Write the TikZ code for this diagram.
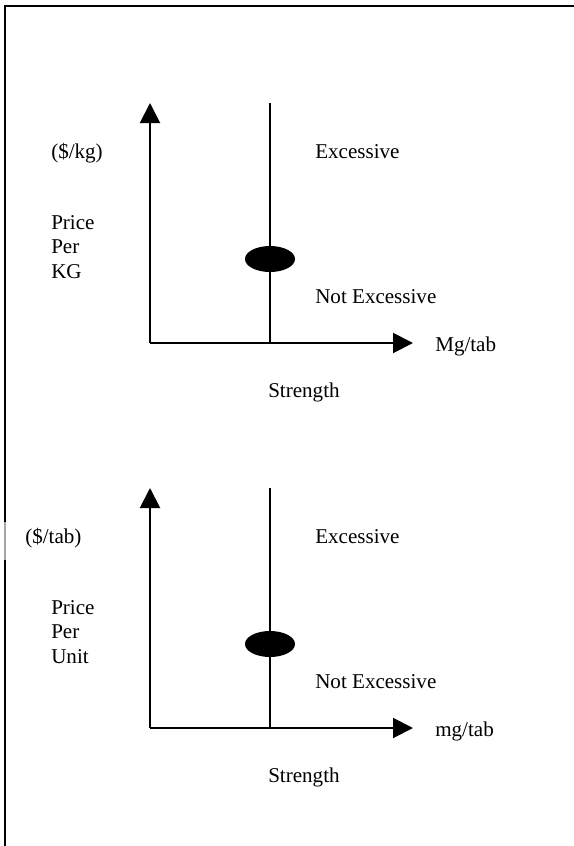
\documentclass[tikz,border=0pt]{standalone}
\usepackage{fontspec}
\setmainfont{Liberation Serif}
\usetikzlibrary{arrows.meta,shapes.geometric}
\begin{document}
\begin{tikzpicture}[x=0.75pt,y=-0.75pt,
  lbl/.style={anchor=base west,inner sep=0pt,font=\fontsize{15.8}{19}\selectfont},
  axisline/.style={line width=1.5pt,-{Triangle[length=15pt,width=15pt]}},
  divider/.style={line width=1.5pt},
  framedge/.style={line width=1.6pt},
  dot/.style={ellipse,fill=black,draw=none,minimum width=37.5pt,minimum height=19.5pt,inner sep=0pt}]
\useasboundingbox (0,0) rectangle (574,846);
% frame (top and left edges only)
\coordinate (fbl) at (5,846);
\coordinate (ftl) at (5,6);
\coordinate (ftr) at (574,6);
\draw[framedge] (fbl) -- (ftl) -- (ftr);
\coordinate (gtop) at (5,522);
\coordinate (gbot) at (5,560);
\draw[line width=1.7pt,gray!70] (gtop) -- (gbot);

% ---------- upper panel ----------
\coordinate (o1) at (150,343);
\coordinate (yt1) at (150,103);
\coordinate (xt1) at (413,343);
\coordinate (vt1) at (270,103);
\coordinate (vb1) at (270,343);
\draw[axisline] (o1) -- (yt1);
\draw[axisline] (o1) -- (xt1);
\draw[divider] (vt1) -- (vb1);
\node[dot] (dot1) at (270,259) {};
\node[lbl] (unit1) at (51,158) {(\$/kg)};
\node[lbl] (pa1) at (51,229) {Price};
\node[lbl] (pb1) at (51,253.5) {Per};
\node[lbl] (pc1) at (51,278) {KG};
\node[lbl] (ex1) at (315,158) {Excessive};
\node[lbl] (nex1) at (315,303) {Not Excessive};
\node[lbl] (xl1) at (435,351) {Mg/tab};
\node[lbl] (st1) at (268,397) {Strength};

% ---------- lower panel ----------
\coordinate (o2) at (150,728);
\coordinate (yt2) at (150,488);
\coordinate (xt2) at (413,728);
\coordinate (vt2) at (270,488);
\coordinate (vb2) at (270,728);
\draw[axisline] (o2) -- (yt2);
\draw[axisline] (o2) -- (xt2);
\draw[divider] (vt2) -- (vb2);
\node[dot] (dot2) at (270,644) {};
\node[lbl] (unit2) at (25,543) {(\$/tab)};
\node[lbl] (pa2) at (51,614) {Price};
\node[lbl] (pb2) at (51,638.5) {Per};
\node[lbl] (pc2) at (51,663) {Unit};
\node[lbl] (ex2) at (315,543) {Excessive};
\node[lbl] (nex2) at (315,688) {Not Excessive};
\node[lbl] (xl2) at (435,736) {mg/tab};
\node[lbl] (st2) at (268,782) {Strength};
\end{tikzpicture}
\end{document}
